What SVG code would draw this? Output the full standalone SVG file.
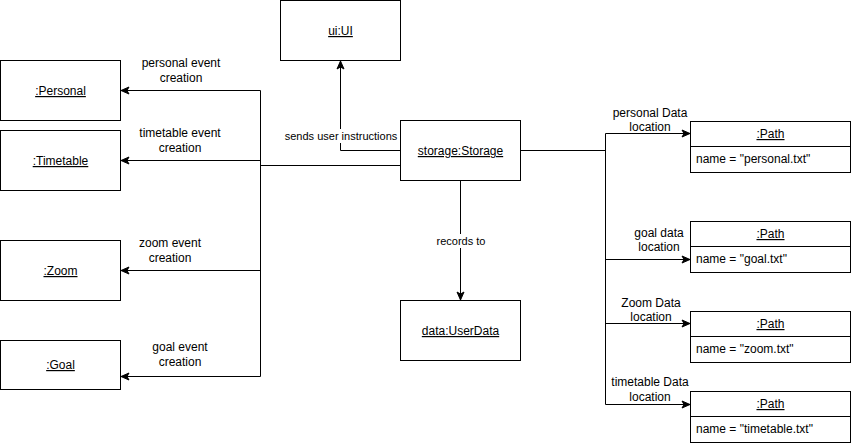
<svg xmlns="http://www.w3.org/2000/svg" width="851" height="446" viewBox="0 0 851 446">
<style>
.box{fill:#fff;stroke:#000;stroke-width:1}
.t{font-family:"Liberation Sans",Arial,sans-serif;font-size:12px;fill:#000}
.u{text-decoration:underline}
.c{text-anchor:middle}
.s11{font-size:11px}
.ln{fill:none;stroke:#000;stroke-width:1}
.bg{fill:#fff}
</style>
<defs>
<marker id="ah" markerUnits="userSpaceOnUse" markerWidth="10" markerHeight="10" viewBox="0 0 10 10" refX="9" refY="5" orient="auto">
<path d="M1,1.5 L9,5 L1,8.5 L3,5 Z" fill="#000" stroke="#000" stroke-width="1"/>
</marker>
</defs>
<rect width="851" height="446" fill="#fff"/>

<g id="connectors">
<path class="ln" d="M400,165.5 H260.5"/>
<path class="ln" d="M260.5,90.5 V376.5"/>
<path class="ln" d="M260.5,90.5 H121" marker-end="url(#ah)"/>
<path class="ln" d="M260.5,160.5 H121" marker-end="url(#ah)"/>
<path class="ln" d="M260.5,270.5 H121" marker-end="url(#ah)"/>
<path class="ln" d="M260.5,376.5 H121" marker-end="url(#ah)"/>
<path class="ln" d="M400,150.5 H340.5 V61" marker-end="url(#ah)"/>
<path class="ln" d="M460.5,180 V300" marker-end="url(#ah)"/>
<path class="ln" d="M520,150.5 H605.5"/>
<path class="ln" d="M605.5,133.5 V404.5"/>
<path class="ln" d="M605.5,133.5 H690" marker-end="url(#ah)"/>
<path class="ln" d="M605.5,259.5 H690" marker-end="url(#ah)"/>
<path class="ln" d="M605.5,323.5 H690" marker-end="url(#ah)"/>
<path class="ln" d="M605.5,404.5 H690" marker-end="url(#ah)"/>

<text class="t c" x="181" y="67">personal event</text>
<text class="t c" x="181" y="82">creation</text>
<text class="t c" x="180" y="137">timetable event</text>
<text class="t c" x="180" y="152">creation</text>
<text class="t c" x="170" y="247">zoom event</text>
<text class="t c" x="170" y="262">creation</text>
<text class="t c" x="180" y="351">goal event</text>
<text class="t c" x="180" y="366">creation</text>
<rect class="bg" x="283" y="129" width="116" height="14"/>
<text class="t c s11" x="341" y="140">sends user instructions</text>
<rect class="bg" x="435" y="234" width="52" height="14"/>
<text class="t c s11" x="461" y="245">records to</text>
<text class="t c" x="650" y="117">personal Data</text>
<text class="t c" x="650" y="131">location</text>
<text class="t c" x="659" y="237">goal data</text>
<text class="t c" x="659" y="251">location</text>
<text class="t c" x="651" y="307">Zoom Data</text>
<text class="t c" x="651" y="321">location</text>
<text class="t c" x="650" y="386">timetable Data</text>
<text class="t c" x="650" y="401">location</text>
</g>

<g id="personal"><rect class="box" x="0.5" y="60.5" width="120" height="60"/><text class="t c u" x="60.5" y="95">:Personal</text></g>
<g id="timetable"><rect class="box" x="0.5" y="130.5" width="120" height="60"/><text class="t c u" x="60.5" y="165">:Timetable</text></g>
<g id="zoom"><rect class="box" x="0.5" y="240.5" width="120" height="60"/><text class="t c u" x="60.5" y="275">:Zoom</text></g>
<g id="goal"><rect class="box" x="0.5" y="340.5" width="120" height="49"/><text class="t c u" x="60.5" y="369">:Goal</text></g>
<g id="ui"><rect class="box" x="280.5" y="0.5" width="120" height="60"/><text class="t c u" x="340.5" y="35">ui:UI</text></g>
<g id="storage"><rect class="box" x="400.5" y="120.5" width="120" height="60"/><text class="t c u" x="460.5" y="155">storage:Storage</text></g>
<g id="userdata"><rect class="box" x="400.5" y="300.5" width="120" height="60"/><text class="t c u" x="460.5" y="335">data:UserData</text></g>

<g id="path-personal"><rect class="box" x="690.5" y="121.5" width="160" height="51"/><path class="ln" d="M690.5,146.5 H850.5"/><text class="t c u" x="770.5" y="138">:Path</text><text class="t" x="696" y="163">name = "personal.txt"</text></g>
<g id="path-goal"><rect class="box" x="690.5" y="221.5" width="160" height="51"/><path class="ln" d="M690.5,246.5 H850.5"/><text class="t c u" x="770.5" y="238">:Path</text><text class="t" x="696" y="263">name = "goal.txt"</text></g>
<g id="path-zoom"><rect class="box" x="690.5" y="311.5" width="160" height="51"/><path class="ln" d="M690.5,336.5 H850.5"/><text class="t c u" x="770.5" y="328">:Path</text><text class="t" x="696" y="353">name = "zoom.txt"</text></g>
<g id="path-timetable"><rect class="box" x="690.5" y="391.5" width="160" height="51"/><path class="ln" d="M690.5,416.5 H850.5"/><text class="t c u" x="770.5" y="408">:Path</text><text class="t" x="696" y="433">name = "timetable.txt"</text></g>
</svg>
